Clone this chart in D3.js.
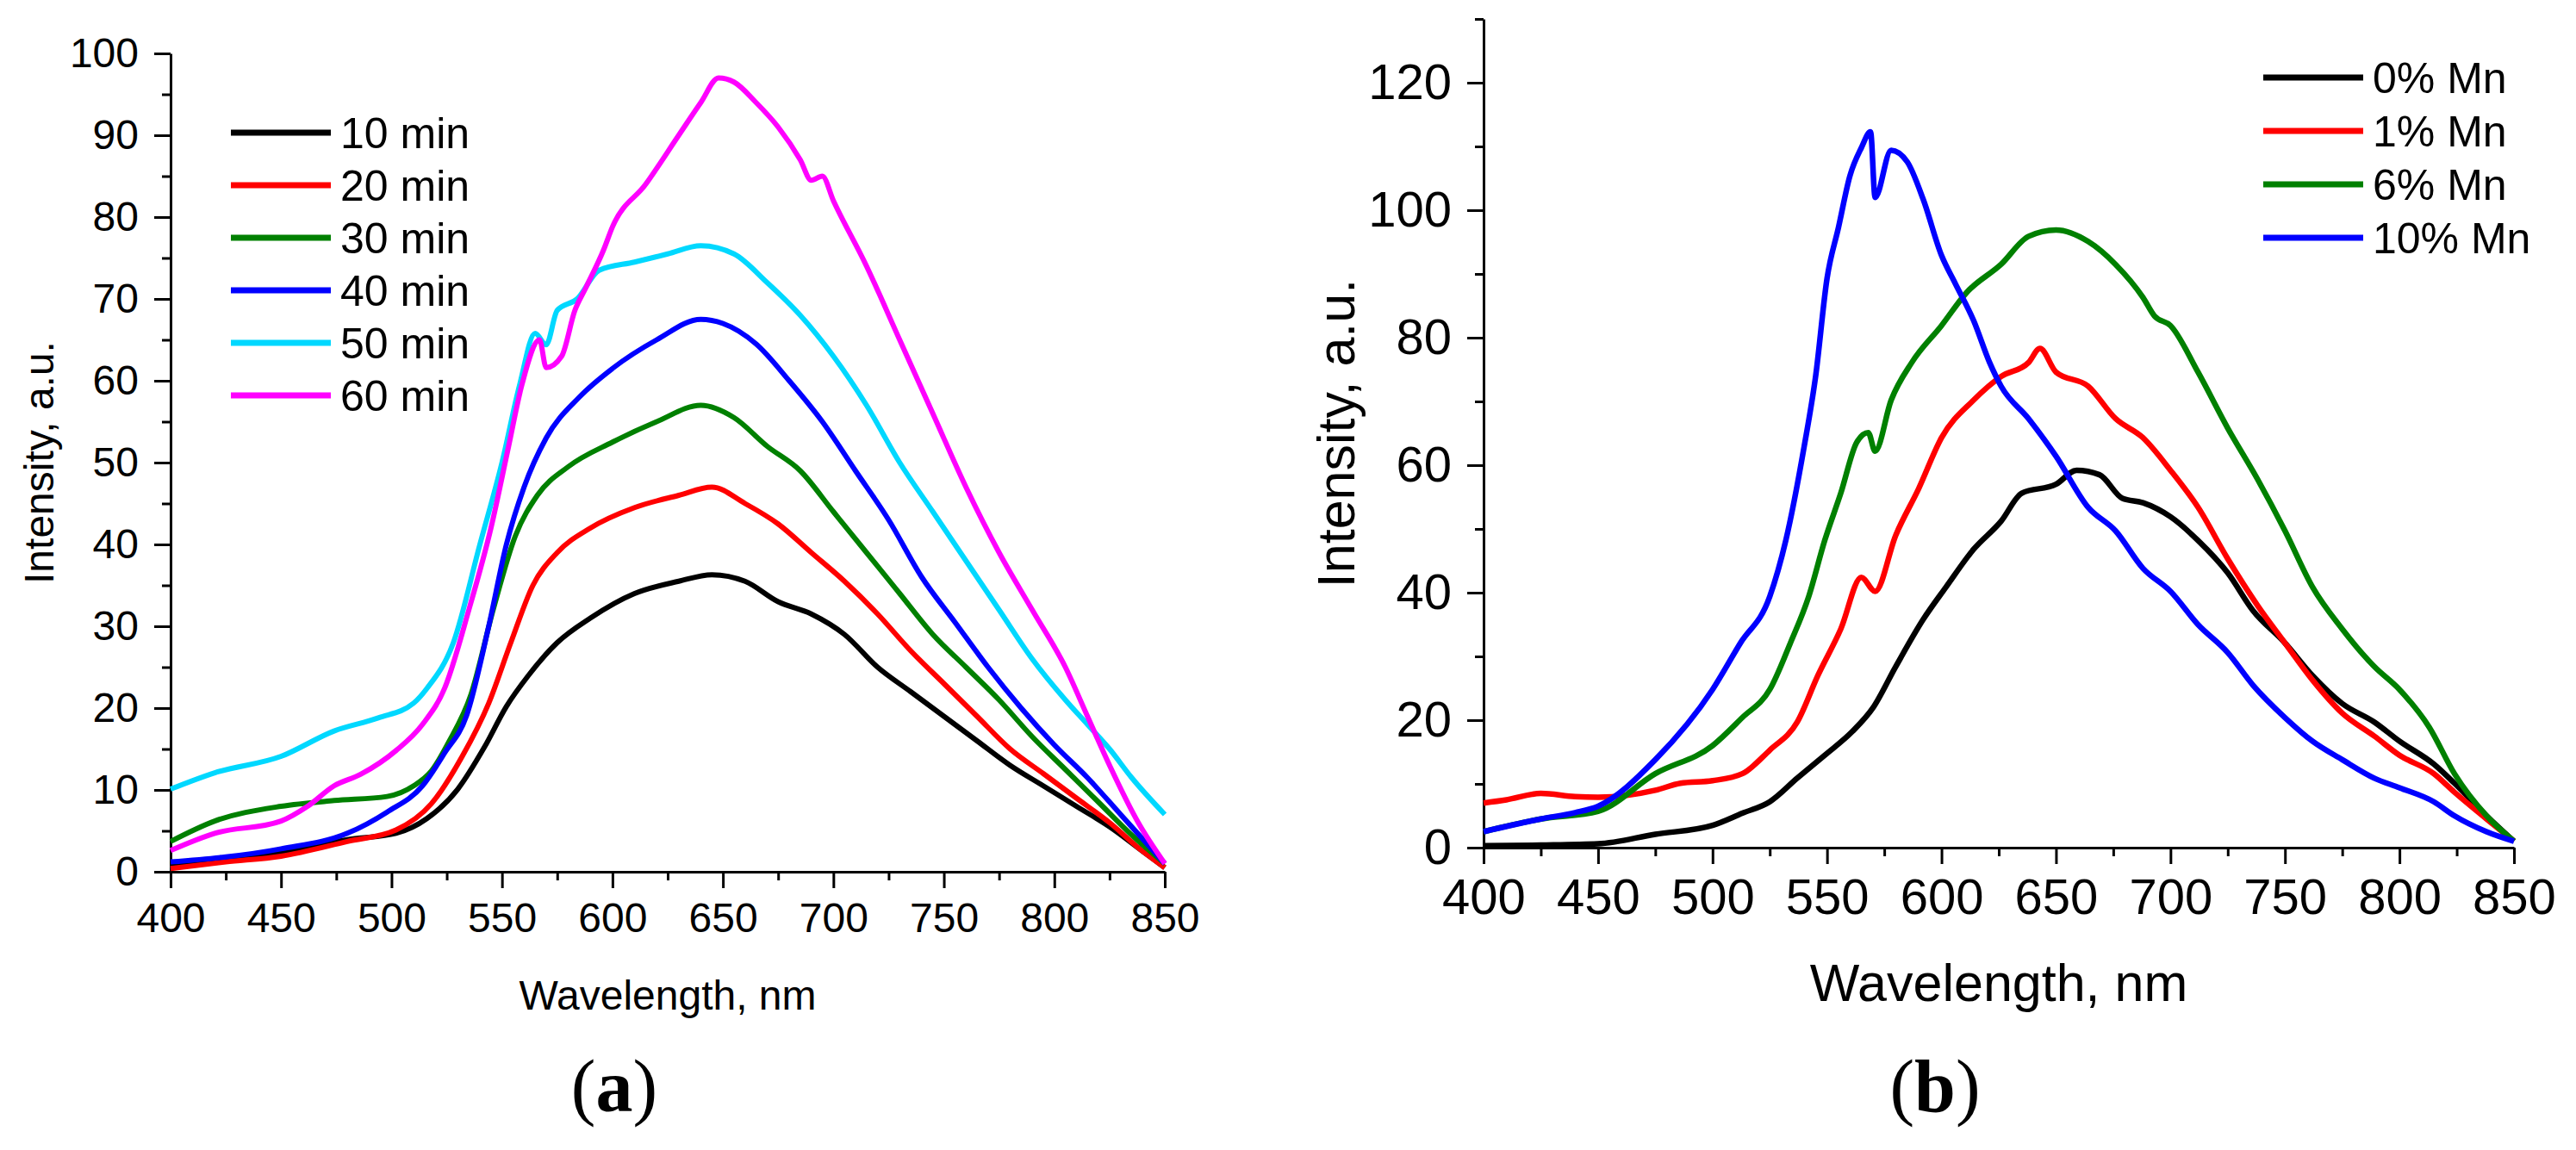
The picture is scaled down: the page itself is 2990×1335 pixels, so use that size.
<!DOCTYPE html>
<html>
<head>
<meta charset="utf-8">
<script src="https://cdn.jsdelivr.net/npm/d3@7"></script>
<style>
  body { margin: 0; background: #fff; }
  svg { display: block; font-family: "Liberation Sans", Arial, sans-serif; }
  .axis path, .axis line { stroke: #000; stroke-width: 3; }
  .axis text { fill: #000; }
</style>
</head>
<body>
<svg id="fig" width="2990" height="1335"></svg>
<script>
// ---- data: [wavelength nm, intensity a.u.] ----
const timeLabels = ["10 min", "20 min", "30 min", "40 min", "50 min", "60 min"];
const mnLabels = ["0% Mn", "1% Mn", "6% Mn", "10% Mn"];

const min10 = [[400,0.8],[425,1.5],[450,2.4],[482,4],[502,4.7],[516,6.5],[530,10.1],[542,15.2],[552,20.2],[562,24],[575,28],[590,31],[610,34],[630,35.5],[645,36.3],[660,35.5],[675,33],[690,31.5],[705,29],[720,25],[735,22],[750,19],[765,16],[780,13],[795,10.5],[810,8],[825,5.5],[840,2.5],[850,0.5]];
const min20 = [[400,0.4],[425,1.2],[450,1.9],[480,3.7],[502,5.1],[518,8.3],[532,14.1],[544,20.6],[554,28],[564,35],[575,39],[590,42],[610,44.5],[630,46],[645,47],[660,45],[675,42.5],[690,39],[705,35.5],[720,31.5],[735,27],[750,23],[765,19],[780,15],[795,12],[810,9],[825,6],[840,2.5],[850,0.5]];
const min30 = [[400,3.7],[420,6.2],[450,8],[474,8.7],[498,9.2],[510,10.5],[518,12.3],[526,15.9],[536,21.7],[546,32],[556,41],[566,46],[580,49.5],[600,52.5],[620,55],[640,57],[655,55.5],[670,52],[685,49],[700,44],[715,39],[730,34],[745,29],[760,25],[775,21],[790,16.5],[805,12.5],[820,8.5],[835,4.5],[850,1]];
const min40 = [[400,1.2],[450,2.8],[480,4.7],[498,7.3],[514,10.5],[524,14.5],[534,19.1],[544,30],[552,40],[560,47],[570,53],[585,58],[600,61.5],[620,65],[640,67.5],[650,67],[665,64.5],[680,60],[695,55],[710,49],[725,43],[740,36],[755,30.5],[770,25],[785,20],[800,15.5],[815,11.5],[830,7],[845,2.5],[850,1]];
const min50 = [[400,10.1],[420,12.1],[450,14.1],[474,17.2],[494,18.8],[510,20.6],[516,22.4],[528,28],[540,40],[550,50],[558,59.5],[565,65.8],[570,64.4],[575,68.6],[584,70],[594,73.5],[610,74.5],[625,75.5],[640,76.5],[655,75.5],[670,72],[685,68],[700,63],[715,57],[730,50],[745,44],[760,38],[775,32],[790,26],[805,21],[815,18],[825,15],[835,11.5],[850,7]];
const min60 = [[400,2.6],[420,4.7],[450,6.2],[462,8],[474,10.5],[486,11.9],[502,14.8],[514,18],[524,22.4],[535,32],[545,42],[553,52],[559,59.5],[567,65],[570,61.6],[577,63],[583,68.6],[588,71.4],[596,76],[600,78.8],[615,84],[630,90],[640,94],[648,97],[655,96.5],[665,94],[675,91],[685,87],[690,84.5],[695,85],[700,82],[715,74],[730,65],[745,56],[760,47],[775,39],[790,32],[805,25],[815,19],[825,13],[838,6],[850,1]];

const mn0 = [[400,0.3],[425,0.4],[450,0.6],[475,2.1],[500,3.5],[513,5.4],[525,7.2],[537,10.9],[549,14.5],[561,18.2],[570,21.9],[580,28.4],[592,35.8],[602,40.9],[614,46.8],[626,51.2],[635,55.6],[650,57],[659,59.2],[669,58.5],[679,54.8],[688,54.1],[700,51.9],[712,48.2],[725,43.1],[736,37.2],[750,32.1],[762,27],[775,22.6],[789,19.7],[800,16.7],[815,13.1],[824,10.1],[838,5],[850,1]];
const mn1 = [[400,7],[410,7.5],[425,8.5],[440,8],[450,7.9],[475,9],[486,10.1],[500,10.5],[513,11.6],[525,15.3],[537,19.7],[546,27],[556,34.3],[565,42.4],[571,40.2],[580,49],[590,56.3],[600,64.3],[614,70.2],[626,73.9],[638,76.1],[643,78.3],[650,74.6],[664,72.4],[676,67.3],[688,64.3],[700,59.2],[712,53.4],[725,45.3],[738,38],[750,32.1],[762,26.3],[775,21.1],[789,17.5],[800,14.5],[815,11.6],[824,8.7],[838,4.5],[850,1]];
const mn6 = [[400,2.5],[425,4.5],[450,5.7],[475,11.6],[500,16],[513,20.4],[525,24.8],[534,32.1],[542,39.4],[549,48.2],[556,55.6],[563,63.6],[568,65.1],[571,62.2],[578,70.2],[587,76.1],[600,81.9],[611,87.1],[626,91.5],[638,95.9],[650,96.9],[664,95.1],[676,91.5],[688,86.3],[693,83.4],[700,81.9],[712,74.6],[725,65.8],[738,57.8],[750,49.7],[762,40.9],[775,34.3],[789,28.4],[800,24.8],[813,18.9],[824,11.6],[838,5],[850,1]];
const mn10 = [[400,2.5],[425,4.5],[440,5.5],[450,6.5],[475,13.8],[500,24.8],[512,32],[525,39.4],[532,48.2],[540,62.9],[545,73.9],[550,89.3],[555,97.3],[560,105.4],[565,109.8],[569,112.3],[571,102],[578,109.4],[585,107.6],[592,101.7],[600,92.9],[606,88.5],[614,82.7],[621,76.1],[626,72.4],[638,67.3],[650,61.4],[664,53.4],[676,49.7],[688,43.8],[700,40.2],[712,35],[725,30.6],[736,25.5],[750,20.4],[762,16.7],[775,13.8],[789,10.9],[800,9.4],[815,7.2],[824,5],[838,2.5],[850,1]];

const timeSeries = [min10, min20, min30, min40, min50, min60];
const mnSeries = [mn0, mn1, mn6, mn10];

const xMajor = [400, 450, 500, 550, 600, 650, 700, 750, 800, 850];
const xMinor = [425, 475, 525, 575, 625, 675, 725, 775, 825];
const yMajorA = [0, 10, 20, 30, 40, 50, 60, 70, 80, 90, 100];
const yMinorA = [5, 15, 25, 35, 45, 55, 65, 75, 85, 95];
const yMajorB = [0, 20, 40, 60, 80, 100, 120];
const yMinorB = [10, 30, 50, 70, 90, 110, 130];

const timeColors = ["#000000", "#ff0000", "#008000", "#0000ff", "#00d8ff", "#ff00ff"];
const mnColors = ["#000000", "#ff0000", "#008000", "#0000ff"];

const svg = d3.select("#fig");

function drawPanel(p) {
    const x = d3.scaleLinear().domain([400, 850]).range([p.left, p.right]);
    const y = d3.scaleLinear().domain([0, p.yMax]).range([p.bottom, p.top]);
    const g = svg.append("g");

    // minor ticks first
    g.append("g").attr("class", "axis")
        .attr("transform", `translate(0,${p.bottom})`)
        .call(d3.axisBottom(x).tickValues(xMinor).tickSize(10).tickFormat(""))
        .select(".domain").remove();
    g.append("g").attr("class", "axis")
        .attr("transform", `translate(${p.left},0)`)
        .call(d3.axisLeft(y).tickValues(p.yMinor).tickSize(10).tickFormat(""))
        .select(".domain").remove();

    g.append("g").attr("class", "axis")
        .attr("transform", `translate(0,${p.bottom})`)
        .call(d3.axisBottom(x).tickValues(xMajor).tickSizeInner(19).tickSizeOuter(0).tickPadding(17))
        .selectAll("text").style("font-size", p.tickFont + "px");
    g.append("g").attr("class", "axis")
        .attr("transform", `translate(${p.left},0)`)
        .call(d3.axisLeft(y).tickValues(p.yMajor).tickSizeInner(19).tickSizeOuter(0).tickPadding(18))
        .selectAll("text").style("font-size", p.tickFont + "px");

    const line = d3.line()
        .curve(d3.curveMonotoneX)
        .x(function(d) { return x(d[0]); })
        .y(function(d) { return y(d[1]); });

    p.series.forEach(function(s, i) {
        g.append("path")
            .datum(s)
            .attr("d", line)
            .attr("fill", "none")
            .attr("stroke", p.colors[i])
            .attr("stroke-width", p.lineWidth)
            .attr("stroke-linejoin", "round");
    });

    // axis titles
    g.append("text")
        .attr("x", (p.left + p.right) / 2)
        .attr("y", p.xTitleY)
        .attr("text-anchor", "middle")
        .style("font-size", p.titleFont + "px")
        .text("Wavelength, nm");
    g.append("text")
        .attr("transform", `translate(${p.yTitleX},${(p.top + p.bottom) / 2}) rotate(-90)`)
        .attr("text-anchor", "middle")
        .style("font-size", p.titleFont + "px")
        .text("Intensity, a.u.");

    // legend
    const leg = g.append("g");
    p.labels.forEach(function(lab, i) {
        const ly = p.legY + i * p.legStep;
        leg.append("line")
            .attr("x1", p.legX).attr("x2", p.legX + 116)
            .attr("y1", ly).attr("y2", ly)
            .attr("stroke", p.colors[i])
            .attr("stroke-width", 7);
        leg.append("text")
            .attr("x", p.legX + 127)
            .attr("y", ly + 18)
            .style("font-size", "50px")
            .text(lab);
    });

    // panel letter
    const cap = g.append("text")
        .attr("x", p.capX)
        .attr("y", 1290)
        .attr("text-anchor", "middle")
        .style("font-family", "'Liberation Serif', 'Times New Roman', serif")
        .style("font-size", "86px");
    cap.append("tspan").text("(");
    cap.append("tspan").style("font-weight", "bold").text(p.letter);
    cap.append("tspan").text(")");
}

drawPanel({
    left: 198, right: 1352, top: 62, bottom: 1012, yMax: 100,
    yMajor: yMajorA, yMinor: yMinorA,
    series: timeSeries, colors: timeColors, labels: timeLabels,
    lineWidth: 6, tickFont: 48, titleFont: 48,
    xTitleY: 1172, yTitleX: 62,
    legX: 268, legY: 154, legStep: 61,
    capX: 713, letter: "a"
});

drawPanel({
    left: 1722, right: 2918, top: 22, bottom: 984, yMax: 130,
    yMajor: yMajorB, yMinor: yMinorB,
    series: mnSeries, colors: mnColors, labels: mnLabels,
    lineWidth: 6.5, tickFont: 58, titleFont: 61,
    xTitleY: 1162, yTitleX: 1572,
    legX: 2627, legY: 90, legStep: 62,
    capX: 2246, letter: "b"
});
</script>
</body>
</html>
